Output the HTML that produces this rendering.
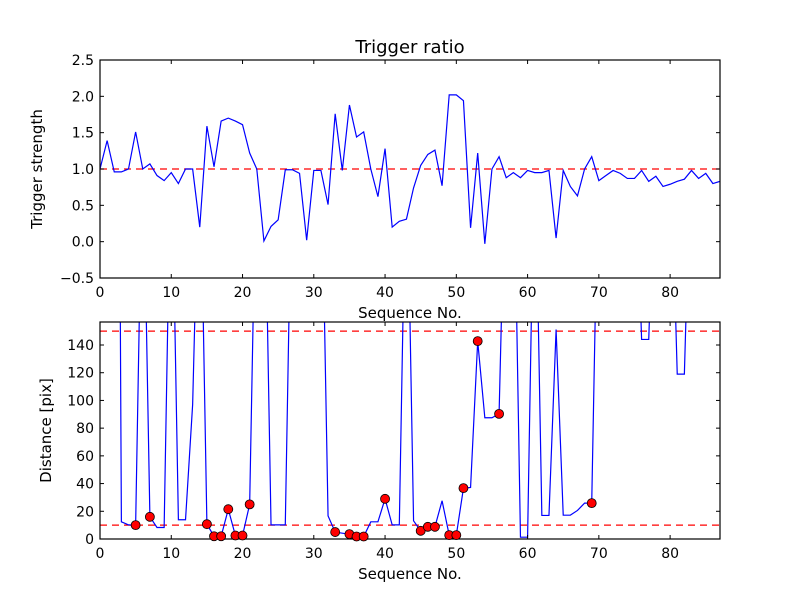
<!DOCTYPE html>
<html><head><meta charset="utf-8"><style>
body{margin:0;background:#fff}
svg{display:block}
text{font-family:"DejaVu Sans","Liberation Sans",sans-serif}
</style></head><body>
<svg id="chart" width="800" height="600" viewBox="0 0 800 600" xmlns="http://www.w3.org/2000/svg">
<rect width="800" height="600" fill="#fff"/>
<defs>
<clipPath id="c1"><rect x="100" y="60" width="620" height="218"/></clipPath>
<clipPath id="c2"><rect x="100" y="322" width="620" height="217"/></clipPath>
</defs>
<g id="g1"></g>
<g id="g2"></g>
</svg>
<script>
const triggerStrength = [1.0,1.39,0.96,0.96,1.0,1.51,1.0,1.07,0.91,0.84,0.95,0.80,1.0,1.0,0.20,1.59,1.03,1.66,1.70,1.66,1.61,1.22,1.0,0.01,0.21,0.30,0.99,0.99,0.94,0.02,0.98,0.98,0.51,1.76,0.98,1.88,1.44,1.51,1.0,0.62,1.28,0.20,0.28,0.31,0.74,1.05,1.20,1.26,0.77,2.02,2.02,1.94,0.19,1.22,-0.03,1.0,1.17,0.88,0.95,0.88,0.98,0.95,0.95,0.98,0.05,0.98,0.76,0.63,1.0,1.17,0.84,0.91,0.98,0.94,0.87,0.87,0.98,0.83,0.90,0.76,0.79,0.83,0.86,0.98,0.87,0.94,0.80,0.83];
const distance = [1000,1000,1000,12.4,10.2,10,300,16,8.3,8.3,300,13.9,13.9,97,300,10.7,2,2,21.5,2.5,2.5,25,300,300,10.2,10.2,10.2,300,300,300,300,300,16.7,5,4.2,3.5,1.8,1.8,12.4,12.4,29,10.2,10.2,300,13.1,5.9,8.8,8.8,27.6,2.8,2.8,36.7,37.2,142.8,87.5,87.5,90.3,300,300,1.3,1.3,300,17,17,151.2,17.2,17.2,20.6,25.9,25.9,300,300,300,300,300,300,144,144,300,300,300,119,119,300,300,300,300,300];
const markedIdx = [5,7,15,16,17,18,19,20,21,33,35,36,37,40,45,46,47,49,50,51,53,56,69];
const xTicks = [0,10,20,30,40,50,60,70,80];
const yTicks1 = [-0.5,0.0,0.5,1.0,1.5,2.0,2.5];
const yTicks2 = [0,20,40,60,80,100,120,140];
const thresh1 = [1.0];
const thresh2 = [10,150];

const NS="http://www.w3.org/2000/svg";
const L=100,R=720,XMAX=87;
const xs=v=>L+(R-L)*v/XMAX;
const p1={top:60,bot:278,min:-0.5,max:2.5};
const p2={top:322,bot:539,min:0,max:156.6};
const ys=(p,v)=>p.bot-(p.bot-p.top)*(v-p.min)/(p.max-p.min);
function el(parent,tag,attrs,txt){const e=document.createElementNS(NS,tag);for(const k in attrs)e.setAttribute(k,attrs[k]);if(txt!==undefined)e.textContent=txt;parent.appendChild(e);return e;}
function fmt1(v){return (v<0?"\u2212":"")+Math.abs(v).toFixed(1);}

function panel(g,p,yTicks,yfmt,clip,series,thr,ylabel,ylx){
  thr.forEach(t=>{
    const ln=el(g,'line',{x1:L,x2:R,y1:ys(p,t),y2:ys(p,t),stroke:'#ff0000','stroke-width':1.2,'stroke-dasharray':'7,5'});
    
    
  });
  const pts=series.map((v,i)=>xs(i).toFixed(2)+','+ys(p,v).toFixed(2)).join(' ');
  const pl=el(g,'polyline',{points:pts,fill:'none',stroke:'#0000ff','stroke-width':1.2,'clip-path':'url(#'+clip+')'});
  
  
  const fr=el(g,'rect',{x:L,y:p.top,width:R-L,height:p.bot-p.top,fill:'none',stroke:'#000','stroke-width':1.2});
  
  
  xTicks.forEach(t=>{
    const x=xs(t);
    el(g,'line',{x1:x,x2:x,y1:p.bot,y2:p.bot-4,stroke:'#000'});
    el(g,'line',{x1:x,x2:x,y1:p.top,y2:p.top+4,stroke:'#000'});
    const tx=el(g,'text',{x:x,y:p.bot+19,'text-anchor':'middle','font-size':14},String(t));
    
    
  });
  yTicks.forEach(t=>{
    const y=ys(p,t);
    el(g,'line',{x1:L,x2:L+4,y1:y,y2:y,stroke:'#000'});
    el(g,'line',{x1:R,x2:R-4,y1:y,y2:y,stroke:'#000'});
    const tx=el(g,'text',{x:L-6,y:y+5,'text-anchor':'end','font-size':14},yfmt(t));
    
    
  });
  const xl=el(g,'text',{x:(L+R)/2,y:p.bot+40,'text-anchor':'middle','font-size':15},'Sequence No.');
  
  
  const cy=(p.top+p.bot)/2;
  const yl=el(g,'text',{x:0,y:0,'text-anchor':'middle','font-size':15,transform:'translate('+ylx+','+cy+') rotate(-90)'},ylabel);
  
  
}
const g1=document.getElementById('g1'),g2=document.getElementById('g2');
panel(g1,p1,yTicks1,fmt1,'c1',triggerStrength,thresh1,'Trigger strength',42);
panel(g2,p2,yTicks2,v=>String(v),'c2',distance,thresh2,'Distance [pix]',51);
const tt=el(g1,'text',{x:410,y:53,'text-anchor':'middle','font-size':18},'Trigger ratio');


markedIdx.forEach(i=>{
  const c=el(g2,'circle',{cx:xs(i),cy:ys(p2,distance[i]),r:4.5,fill:'#ff0000',stroke:'#000','stroke-width':0.8});
  
  
});
</script>
</body></html>
